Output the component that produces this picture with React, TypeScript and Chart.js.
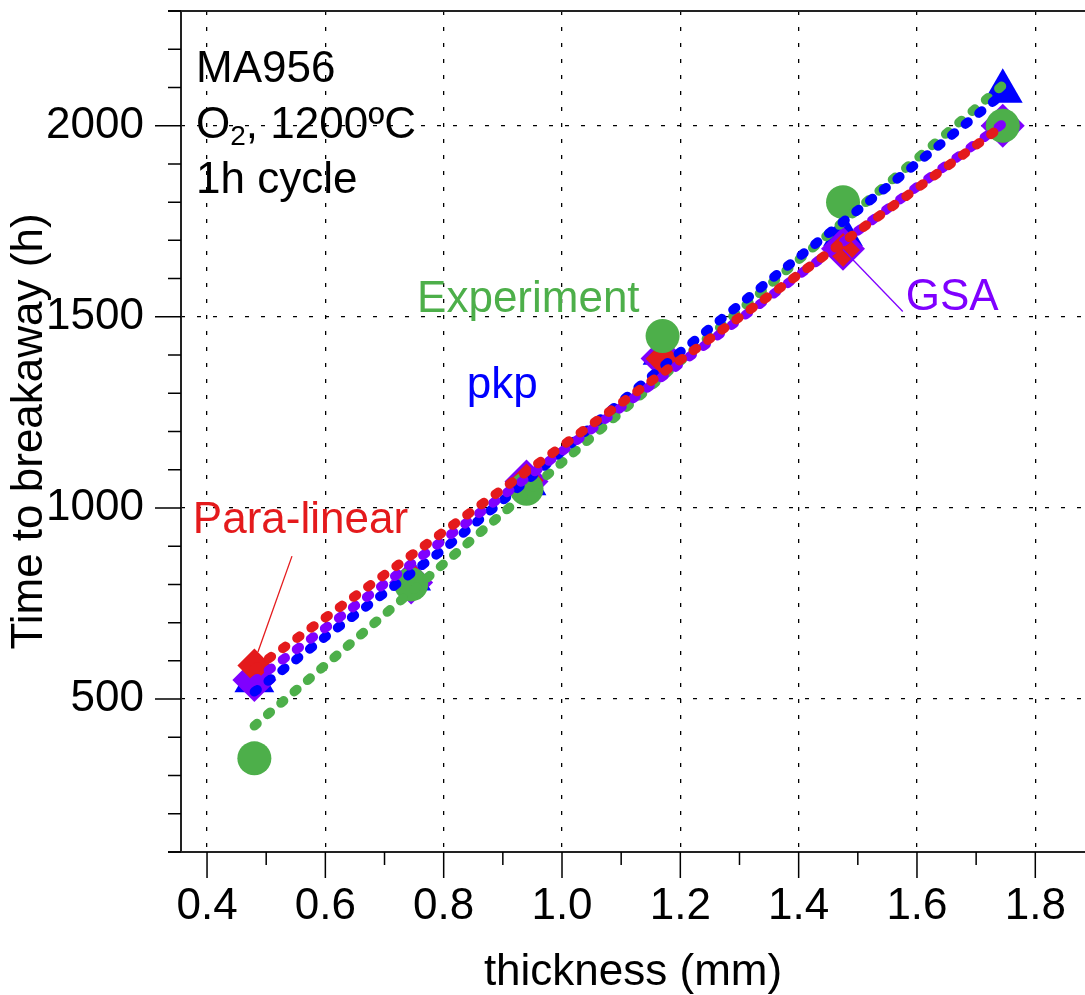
import { useEffect, useRef } from "react";
import { Chart, registerables } from "chart.js";

Chart.register(...registerables);

// Measured breakaway times (h) and model predictions at each sheet thickness (mm)
const THICKNESS = [0.48, 0.745, 0.94, 1.17, 1.475, 1.745];
const EXPERIMENT = [345, 800, 1050, 1450, 1800, 2000];
const PARALINEAR = [588, 815, 1072, 1390, 1675, 2000];
const GSA = [550, 805, 1069, 1391, 1678, 2000];
const PKP = [548, 814, 1063, 1405, 1715, 2090];

// Fitted trend curves (dotted)
const FIT_X = [0.48, 0.6, 0.8, 1.0, 1.2, 1.4, 1.6, 1.745];
const FIT_EXPERIMENT = [430, 589, 854, 1119, 1384, 1649, 1914, 2106];
const FIT_PKP = [519, 663, 892, 1148, 1408, 1656, 1902, 2083];
const FIT_PARALINEAR = [579, 713, 938, 1162, 1387, 1611, 1836, 2000];
const FIT_GSA = [548, 686, 917, 1148, 1378, 1609, 1840, 2005];

// Axis ticks
const X_TICKS = [0.4, 0.6, 0.8, 1.0, 1.2, 1.4, 1.6, 1.8];
const X_MINOR = [0.5, 0.7, 0.9, 1.1, 1.3, 1.5, 1.7];
const Y_TICKS = [500, 1000, 1500, 2000];
const Y_MINOR = [100, 200, 300, 400, 600, 700, 800, 900, 1100, 1200, 1300, 1400, 1600, 1700, 1800, 1900, 2100, 2200, 2300];

const X_MIN = 0.356;
const X_MAX = 1.884;
const Y_MIN = 100;
const Y_MAX = 2300;

const GREEN = "#4daf4a";
const RED = "#e41a1c";
const BLUE = "#0000ff";
const PURPLE = "#7f00ff";
const FONT = "'Liberation Sans', Arial, Helvetica, sans-serif";

const pts = (xs: number[], ys: number[]) => xs.map((x, i) => ({ x, y: ys[i] }));

const fitLine = (label: string, ys: number[], color: string, order: number) => ({
  label,
  data: pts(FIT_X, ys),
  showLine: true,
  borderColor: color,
  borderWidth: 9.5,
  borderDash: [3.5, 14],
  borderCapStyle: "round" as const,
  pointRadius: 0,
  tension: 0,
  fill: false,
  order,
});

const markers = (label: string, ys: number[], color: string, style: string, radius: number, order: number) => ({
  label,
  data: pts(THICKNESS, ys),
  showLine: false,
  pointStyle: style,
  pointRadius: radius,
  pointBackgroundColor: color,
  pointBorderWidth: 0,
  order,
});

// Frame, major/minor tick marks and text notes
const framePlugin = {
  id: "frame",
  afterDraw(chart: any) {
    const { ctx, chartArea, scales } = chart;
    const xs = scales.x;
    const ys = scales.y;
    const { left, right, top, bottom } = chartArea;
    ctx.save();

    // axis lines
    ctx.strokeStyle = "#222";
    ctx.lineWidth = 2;
    ctx.beginPath();
    ctx.moveTo(left, top);
    ctx.lineTo(left, bottom);
    ctx.moveTo(left - 13, bottom);
    ctx.lineTo(right, bottom);
    ctx.moveTo(left - 13, top);
    ctx.lineTo(right, top);
    ctx.stroke();

    // tick marks
    ctx.strokeStyle = "#000";
    ctx.lineWidth = 1.5;
    ctx.beginPath();
    Y_TICKS.forEach((v) => {
      const y = ys.getPixelForValue(v);
      ctx.moveTo(left - 26, y);
      ctx.lineTo(left, y);
    });
    Y_MINOR.forEach((v) => {
      const y = ys.getPixelForValue(v);
      ctx.moveTo(left - 13, y);
      ctx.lineTo(left, y);
    });
    X_TICKS.forEach((v) => {
      const x = xs.getPixelForValue(v);
      ctx.moveTo(x, bottom);
      ctx.lineTo(x, bottom + 26);
    });
    X_MINOR.forEach((v) => {
      const x = xs.getPixelForValue(v);
      ctx.moveTo(x, bottom);
      ctx.lineTo(x, bottom + 13);
    });
    ctx.stroke();

    const px = (v: number) => xs.getPixelForValue(v);
    const py = (v: number) => ys.getPixelForValue(v);

    // pointer lines
    ctx.lineWidth = 1.3;
    ctx.strokeStyle = RED;
    ctx.beginPath();
    ctx.moveTo(px(0.5436), py(874));
    ctx.lineTo(px(0.486), py(623));
    ctx.stroke();
    ctx.strokeStyle = PURPLE;
    ctx.beginPath();
    ctx.moveTo(px(1.475), py(1676));
    ctx.lineTo(px(1.576), py(1514));
    ctx.stroke();

    // text notes
    ctx.textBaseline = "alphabetic";
    ctx.textAlign = "left";
    const big = `44px ${FONT}`;
    const small = `28px ${FONT}`;
    ctx.font = big;
    ctx.fillStyle = "#000";
    const tx = px(0.3814);
    ctx.fillText("MA956", tx, py(2113));
    let cx = tx;
    const by = py(1969);
    ctx.fillText("O", cx, by);
    cx += ctx.measureText("O").width;
    ctx.font = small;
    ctx.fillText("2", cx, by + 7);
    cx += ctx.measureText("2").width;
    ctx.font = big;
    ctx.fillText(", 1200ºC", cx, by);
    ctx.fillText("1h cycle", tx, py(1825));

    ctx.fillStyle = GREEN;
    ctx.fillText("Experiment", px(0.755), py(1513));
    ctx.fillStyle = BLUE;
    ctx.fillText("pkp", px(0.839), py(1288));
    ctx.fillStyle = RED;
    ctx.fillText("Para-linear", px(0.376), py(935));
    ctx.fillStyle = PURPLE;
    ctx.fillText("GSA", px(1.581), py(1519));

    ctx.restore();
  },
};

export default function App() {
  const canvasRef = useRef<HTMLCanvasElement | null>(null);

  useEffect(() => {
    document.body.style.margin = "0";
    const canvas = canvasRef.current;
    if (!canvas) return;

    const chart = new Chart(canvas, {
      type: "scatter",
      data: {
        datasets: [
          fitLine("Para-linear fit", FIT_PARALINEAR, RED, 1),
          fitLine("GSA fit", FIT_GSA, PURPLE, 2),
          fitLine("pkp fit", FIT_PKP, BLUE, 3),
          fitLine("Experiment fit", FIT_EXPERIMENT, GREEN, 4),
          markers("Experiment", EXPERIMENT, GREEN, "circle", 17, 5),
          markers("Para-linear", PARALINEAR, RED, "rectRot", 17, 6),
          markers("GSA", GSA, PURPLE, "rectRot", 22, 7),
          markers("pkp", PKP, BLUE, "triangle", 23, 8),
        ] as any,
      },
      options: {
        responsive: false,
        animation: false,
        devicePixelRatio: 1,
        layout: { autoPadding: false, padding: { top: 11, right: 0, bottom: 0, left: 0 } },
        plugins: {
          legend: { display: false },
          tooltip: { enabled: false },
        },
        scales: {
          x: {
            type: "linear",
            min: X_MIN,
            max: X_MAX,
            afterBuildTicks: (s: any) => {
              s.ticks = X_TICKS.map((value) => ({ value }));
            },
            afterFit: (s: any) => {
              s.height = 143;
              s.paddingLeft = 0;
              s.paddingRight = 0;
            },
            grid: { color: "#000", lineWidth: 1.3, drawTicks: false },
            border: { display: false, dash: [4, 12] },
            ticks: {
              autoSkip: false,
              maxRotation: 0,
              padding: 28,
              color: "#000",
              font: { family: FONT, size: 44 },
              callback: (v: any) => Number(v).toFixed(1),
            },
            title: {
              display: true,
              text: "thickness (mm)",
              color: "#000",
              font: { family: FONT, size: 44, lineHeight: 1 },
              padding: { top: 0, bottom: 0 },
            },
          },
          y: {
            type: "linear",
            min: Y_MIN,
            max: Y_MAX,
            afterBuildTicks: (s: any) => {
              s.ticks = Y_TICKS.map((value) => ({ value }));
            },
            afterFit: (s: any) => {
              s.width = 181;
              s.paddingTop = 0;
              s.paddingBottom = 0;
            },
            grid: { color: "#000", lineWidth: 1.3, drawTicks: false },
            border: { display: false, dash: [4, 12] },
            ticks: {
              autoSkip: false,
              padding: 37,
              color: "#000",
              font: { family: FONT, size: 44 },
              callback: (v: any) => String(v),
            },
            title: {
              display: true,
              text: "Time to breakaway (h)",
              color: "#000",
              font: { family: FONT, size: 44, lineHeight: 1 },
              padding: { top: 8, bottom: 0 },
            },
          },
        },
      } as any,
      plugins: [framePlugin],
    });

    return () => chart.destroy();
  }, []);

  return (
    <div style={{ width: 1085, height: 995 }}>
      <canvas ref={canvasRef} width={1085} height={995} style={{ display: "block" }} />
    </div>
  );
}
